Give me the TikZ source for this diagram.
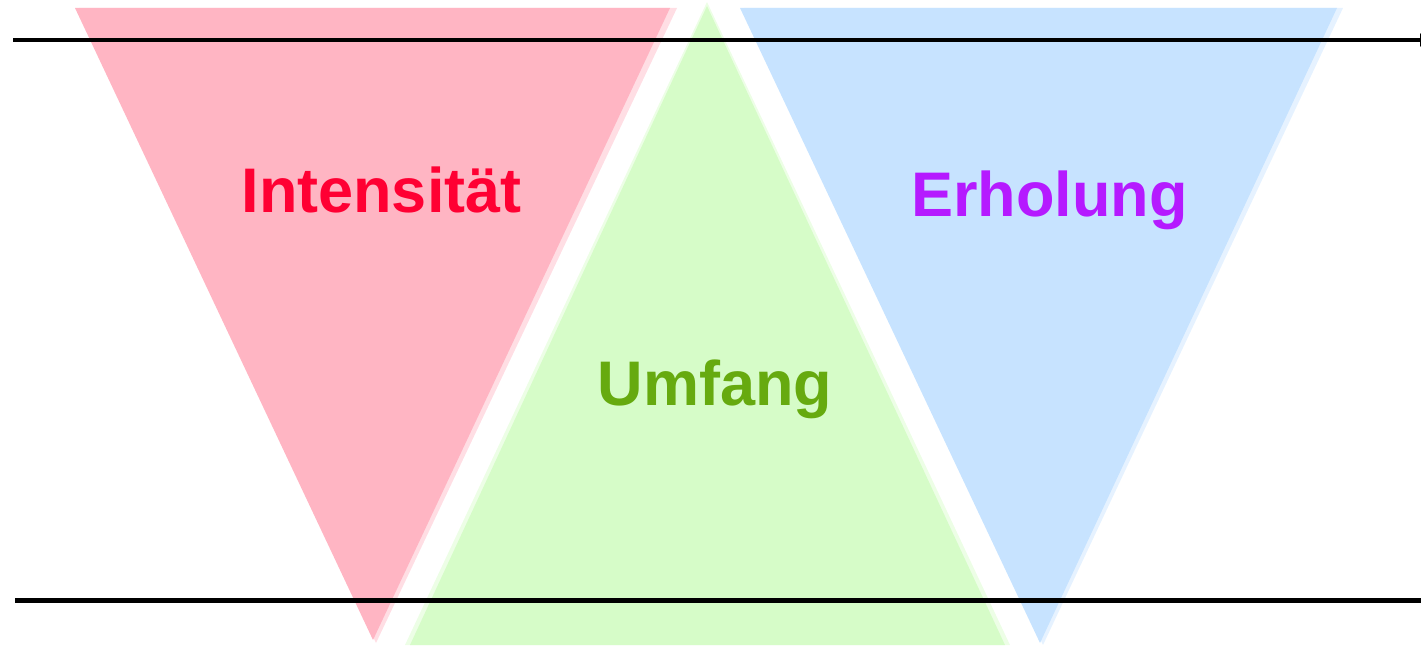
\documentclass[tikz,border=0pt]{standalone}
\usepackage{fontspec}
\setmainfont{Liberation Sans}
\usetikzlibrary{arrows.meta}
\definecolor{redfill}{HTML}{FFB5C3}
\definecolor{greenfill}{HTML}{D6FCC8}
\definecolor{bluefill}{HTML}{C7E3FF}
\definecolor{redtext}{HTML}{FF0033}
\definecolor{greentext}{HTML}{66AA0F}
\definecolor{purpletext}{HTML}{B51AFF}
\tikzset{
  tri/.style={draw=none},
  glow/.style={draw=none, opacity=0.45},
  label/.style={font=\bfseries\fontsize{63}{63}\selectfont, inner sep=0pt, anchor=base},
  axis/.style={line width=4.5pt, black}
}
\begin{document}
\begin{tikzpicture}[x=1pt,y=1pt]
\useasboundingbox (0,0) rectangle (1421,645);
% glow copies
\fill[glow, redfill] (79,637) -- (677,637) -- (376,2) -- cycle;
\fill[glow, greenfill] (707,643) -- (405,0) -- (1010,0) -- cycle;
\fill[glow, bluefill] (744,637) -- (1343,637) -- (1043,0) -- cycle;
% triangles
\fill[tri, redfill] (75,637) -- (670,637) -- (373,5) -- cycle;
\fill[tri, greenfill] (707,639) -- (410,0) -- (1005,0) -- cycle;
\fill[tri, bluefill] (740,637) -- (1337,637) -- (1040,2) -- cycle;
% lines
\coordinate (tl) at (13,605);
\coordinate (tr) at (1436,605);
\coordinate (bl) at (15,44.5);
\coordinate (br) at (1421,44.5);
\draw[axis, -{Latex[length=16pt,width=14pt]}] (tl) -- (tr);
\draw[axis] (bl) -- (br);
% labels
\node[label, text=redtext] (int) at (381.5,432) {Intensität};
\node[label, text=purpletext] (erh) at (1049.5,428) {Erholung};
\node[label, text=greentext] (umf) at (715,239) {Umfang};
\end{tikzpicture}
\end{document}
